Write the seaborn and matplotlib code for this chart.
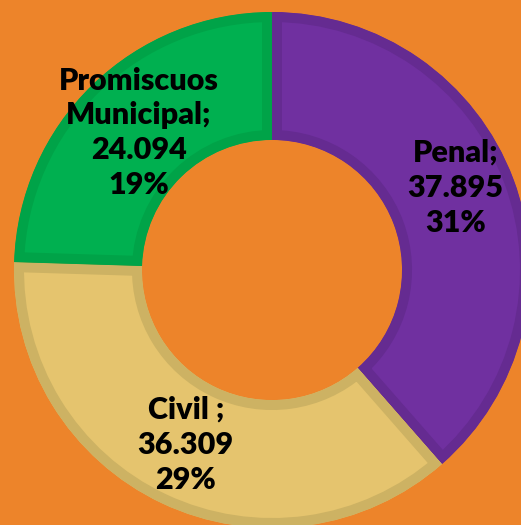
import numpy as np
import seaborn as sns
import matplotlib.pyplot as plt

# data (pct shown are of the full total, as labelled)
categorias = ["Penal", "Civil ", "Promiscuos\nMunicipal"]
procesos = [37895, 36309, 24094]
porcentajes = [31, 29, 19]
colores = ["#7030A0", "#E5C46E", "#00B050"]
bordes = ["#652B91", "#CDB263", "#00A348"]
fondo = "#ED842A"

sns.set_theme(style="white")
plt.rcParams['font.family'] = ['Lato', 'DejaVu Sans']

fig = plt.figure(figsize=(5.21, 5.25), dpi=100, facecolor=fondo)
ax = fig.add_axes([0, 0, 1, 1])
ax.set_facecolor(fondo)

wedges, _ = ax.pie(procesos, colors=colores, startangle=90, counterclock=False,
                   wedgeprops=dict(width=0.496, linewidth=14.4))
for w, b in zip(wedges, bordes):
    w.set_edgecolor(b)
    # keep only the inner half of the stroke
    w.set_clip_on(True)
    w.set_clip_path(w)

def fmt(v):
    return f"{v:,}".replace(",", ".")

# label placement: distance from centre and small angle nudge (deg)
dist = [0.78, 0.755, 0.74]
nudge = [3.5, -1.0, 0.0]
for w, cat, v, p, d, n in zip(wedges, categorias, procesos, porcentajes, dist, nudge):
    ang = np.deg2rad((w.theta1 + w.theta2) / 2 + n)
    txt = f"{cat};\n{fmt(v)}\n{p}%"
    ax.text(d * np.cos(ang), d * np.sin(ang), txt, ha="center", va="center",
            fontsize=22, fontweight="heavy", color="black", linespacing=1.3)

# the donut is cropped by the frame on the right and bottom
R = 258.0
ax.set_aspect("auto")
ax.set_xlim(-272 / R, (521 - 272) / R)
ax.set_ylim(-(525 - 270) / R, 270 / R)
ax.axis("off")

fig.savefig("out.png", dpi=100, facecolor=fondo)
